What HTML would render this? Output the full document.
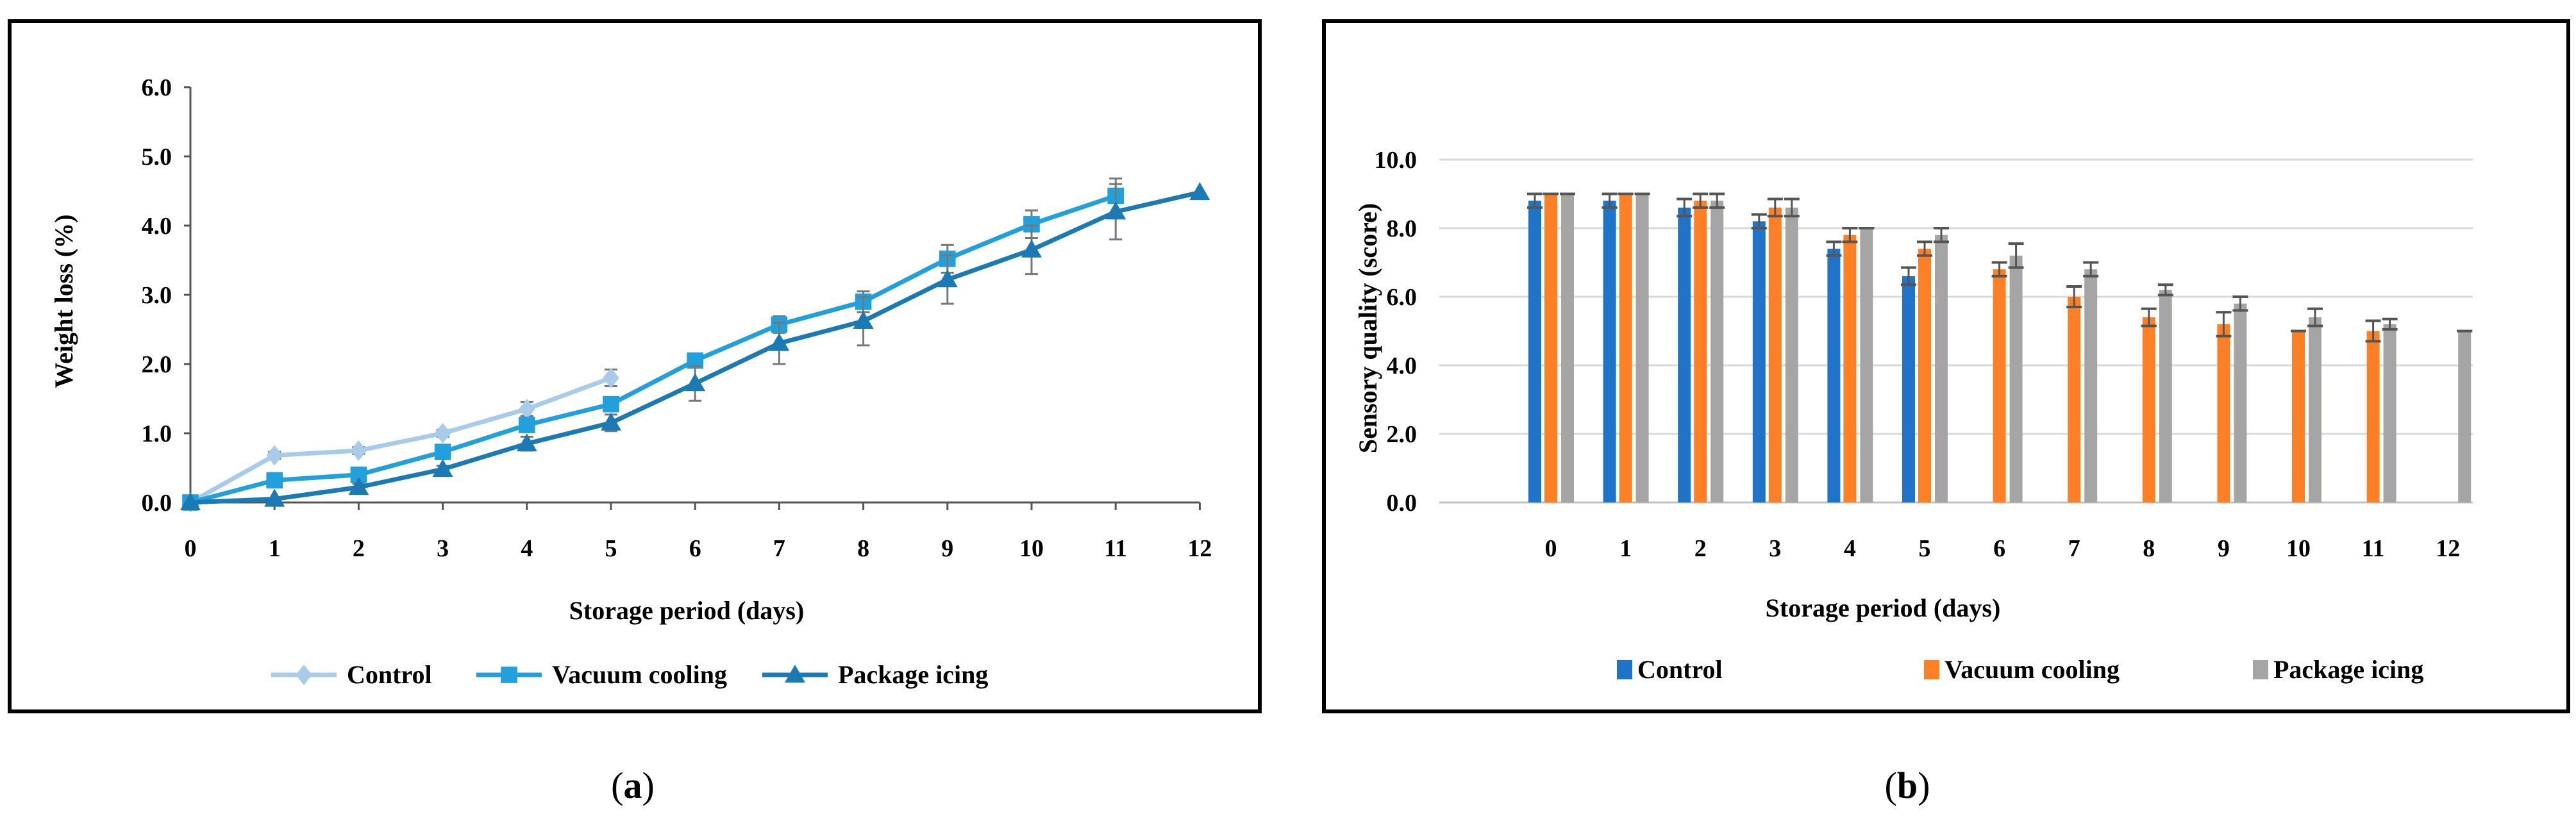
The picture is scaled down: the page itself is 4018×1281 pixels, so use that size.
<!DOCTYPE html>
<html><head><meta charset="utf-8"><style>
body{margin:0;background:#fff;}
svg{display:block;font-family:"Liberation Serif",serif;}
</style></head><body>
<svg id="s" width="4018" height="1281" viewBox="0 0 4018 1281">
<rect x="15" y="33" width="1950" height="1077" fill="none" stroke="#000" stroke-width="6"/>
<rect x="2065" y="33" width="1941" height="1077" fill="none" stroke="#000" stroke-width="6"/>
<g id="ga"></g>
<g id="gb"></g>
<text x="987" y="1245" font-size="58" text-anchor="middle">(<tspan font-weight="bold">a</tspan>)</text>
<text x="2975" y="1245" font-size="58" text-anchor="middle">(<tspan font-weight="bold">b</tspan>)</text>
</svg>
<script>
const daysA=[0,1,2,3,4,5,6,7,8,9,10,11,12];
const yTicksA=[0,1,2,3,4,5,6];
const controlA=[0,0.68,0.75,1.0,1.35,1.8];
const controlErrA=[0,0.05,0.05,0.05,0.1,0.12];
const vacuumA=[0,0.32,0.4,0.73,1.12,1.42,2.05,2.57,2.9,3.52,4.02,4.43];
const vacuumErrA=[0,0.05,0.05,0.08,0.08,0.08,0.08,0.12,0.15,0.2,0.2,0.25];
const packageA=[0,0.05,0.22,0.48,0.85,1.15,1.72,2.3,2.62,3.22,3.65,4.2,4.48];
const packageErrA=[0,0,0.05,0.05,0.1,0.12,0.25,0.3,0.35,0.35,0.35,0.4,0];

const daysB=[0,1,2,3,4,5,6,7,8,9,10,11,12];
const yTicksB=[0,2,4,6,8,10];
const controlB=[8.8,8.8,8.6,8.2,7.4,6.6];
const controlErrB=[0.2,0.2,0.25,0.2,0.2,0.25];
const vacuumB=[9,9,8.8,8.6,7.8,7.4,6.8,6.0,5.4,5.2,5.0,5.0];
const vacuumErrB=[0,0,0.2,0.25,0.2,0.2,0.2,0.3,0.25,0.35,0,0.3];
const packageB=[9,9,8.8,8.6,8,7.8,7.2,6.8,6.2,5.8,5.4,5.2,5.0];
const packageErrB=[0,0,0.2,0.25,0,0.2,0.35,0.2,0.15,0.2,0.25,0.15,0];

const NS="http://www.w3.org/2000/svg";
function mk(p,t,a,txt){const e=document.createElementNS(NS,t);for(const k in a)e.setAttribute(k,a[k]);if(txt!==undefined)e.textContent=txt;p.appendChild(e);return e;}

// Panel A
const ga=document.getElementById('ga');
const xA=d=>297+d*131.2, yA=v=>784-v*108;
let e;
e=mk(ga,'line',{x1:297,y1:yA(6),x2:297,y2:784,stroke:'#555','stroke-width':3});

e=mk(ga,'line',{x1:297,y1:784,x2:xA(12),y2:784,stroke:'#555','stroke-width':3});

yTicksA.forEach(v=>{
 mk(ga,'line',{x1:287,y1:yA(v),x2:297,y2:yA(v),stroke:'#555','stroke-width':3});
 e=mk(ga,'text',{x:268,y:yA(v)+13,'font-size':38,'font-weight':'bold','text-anchor':'end'},v.toFixed(1));
 
});
daysA.forEach(d=>{
 mk(ga,'line',{x1:xA(d),y1:784,x2:xA(d),y2:796,stroke:'#555','stroke-width':3});
 e=mk(ga,'text',{x:xA(d),y:868,'font-size':38,'font-weight':'bold','text-anchor':'middle'},String(d));
 
});
e=mk(ga,'text',{x:1071,y:966,'font-size':40,'font-weight':'bold','text-anchor':'middle'},'Storage period (days)');

e=mk(ga,'text',{x:0,y:0,'font-size':40,'font-weight':'bold','text-anchor':'middle',transform:'translate(113,470) rotate(-90)'},'Weight loss (%)');


function marker(g,type,x,y,c,s){
 if(type==='d') return mk(g,'polygon',{points:`${x},${y-s} ${x+s*0.8},${y} ${x},${y+s} ${x-s*0.8},${y}`,fill:c});
 if(type==='s') return mk(g,'rect',{x:x-s*0.8,y:y-s*0.8,width:s*1.6,height:s*1.6,fill:c});
 return mk(g,'polygon',{points:`${x},${y-s} ${x+s},${y+s*0.75} ${x-s},${y+s*0.75}`,fill:c});
}
const seriesA=[
 ['control',controlA,controlErrA,'#a8cbea','d'],
 ['vacuum-cooling',vacuumA,vacuumErrA,'#22a0dc','s'],
 ['package-icing',packageA,packageErrA,'#1b7ab4','t']];
seriesA.forEach(([n,vals,errs,c,m])=>{
 const g=mk(ga,'g',{});
 
 vals.forEach((v,i)=>{const er=errs[i];if(er>0){
  mk(g,'line',{x1:xA(i),y1:yA(v+er),x2:xA(i),y2:yA(v-er),stroke:'#777','stroke-width':3});
  mk(g,'line',{x1:xA(i)-10,y1:yA(v+er),x2:xA(i)+10,y2:yA(v+er),stroke:'#777','stroke-width':3});
  mk(g,'line',{x1:xA(i)-10,y1:yA(v-er),x2:xA(i)+10,y2:yA(v-er),stroke:'#777','stroke-width':3});}});
 mk(g,'polyline',{points:vals.map((v,i)=>xA(i)+','+yA(v)).join(' '),fill:'none',stroke:c,'stroke-width':7});
 vals.forEach((v,i)=>{const p=marker(g,m,xA(i),yA(v),c,16);
  });
});
[['control','Control',423,'#a8cbea','d'],['vacuum-cooling','Vacuum cooling',743,'#22a0dc','s'],['package-icing','Package icing',1189,'#1b7ab4','t']].forEach(([n,l,x,c,m])=>{
 const g=mk(ga,'g',{});
 
 mk(g,'line',{x1:x,y1:1053,x2:x+102,y2:1053,stroke:c,'stroke-width':7});
 marker(g,m,x+51,1053,c,16);
 mk(g,'text',{x:x+118,y:1066,'font-size':40,'font-weight':'bold'},l);
});

// Panel B
const gb=document.getElementById('gb');
const xB=d=>2419+d*116.6, yB=v=>784-v*53.5;
yTicksB.forEach(v=>{
 e=mk(gb,'line',{x1:2245,y1:yB(v),x2:3857,y2:yB(v),stroke:v===0?'#bfbfbf':'#d9d9d9','stroke-width':3});
 
 e=mk(gb,'text',{x:2210,y:yB(v)+13,'font-size':38,'font-weight':'bold','text-anchor':'end'},v.toFixed(1));
 
});
daysB.forEach(d=>{
 e=mk(gb,'text',{x:xB(d),y:868,'font-size':38,'font-weight':'bold','text-anchor':'middle'},String(d));
 
});
e=mk(gb,'text',{x:2937,y:962,'font-size':40,'font-weight':'bold','text-anchor':'middle'},'Storage period (days)');

e=mk(gb,'text',{x:0,y:0,'font-size':40,'font-weight':'bold','text-anchor':'middle',transform:'translate(2147,512) rotate(-90)'},'Sensory quality (score)');

const seriesB=[['control',controlB,controlErrB,'#1f73c8',-25],['vacuum-cooling',vacuumB,vacuumErrB,'#fd7f26',0],['package-icing',packageB,packageErrB,'#a5a5a5',26]];
seriesB.forEach(([n,vals,errs,c,off])=>{
 const g=mk(gb,'g',{});
 
 vals.forEach((v,i)=>{
  const cx=xB(i)+off;
  const b=mk(g,'rect',{x:cx-10,y:yB(v),width:20,height:784-yB(v),fill:c});
  
  const er=errs[i];
  mk(g,'line',{x1:cx,y1:yB(v+er),x2:cx,y2:yB(v-er),stroke:'#555','stroke-width':3});
  mk(g,'line',{x1:cx-12,y1:yB(v+er),x2:cx+12,y2:yB(v+er),stroke:'#555','stroke-width':4});
  mk(g,'line',{x1:cx-12,y1:yB(v-er),x2:cx+12,y2:yB(v-er),stroke:'#555','stroke-width':4});
 });
});
[['control','Control',2524,'#1f73c8'],['vacuum-cooling','Vacuum cooling',3003,'#fd7f26'],['package-icing','Package icing',3516,'#a5a5a5']].forEach(([n,l,x,c])=>{
 const g=mk(gb,'g',{});
 
 mk(g,'rect',{x:x-2,y:1030,width:24,height:30,fill:c});
 mk(g,'text',{x:x+30,y:1058,'font-size':40,'font-weight':'bold'},l);
});
</script>
</body></html>
